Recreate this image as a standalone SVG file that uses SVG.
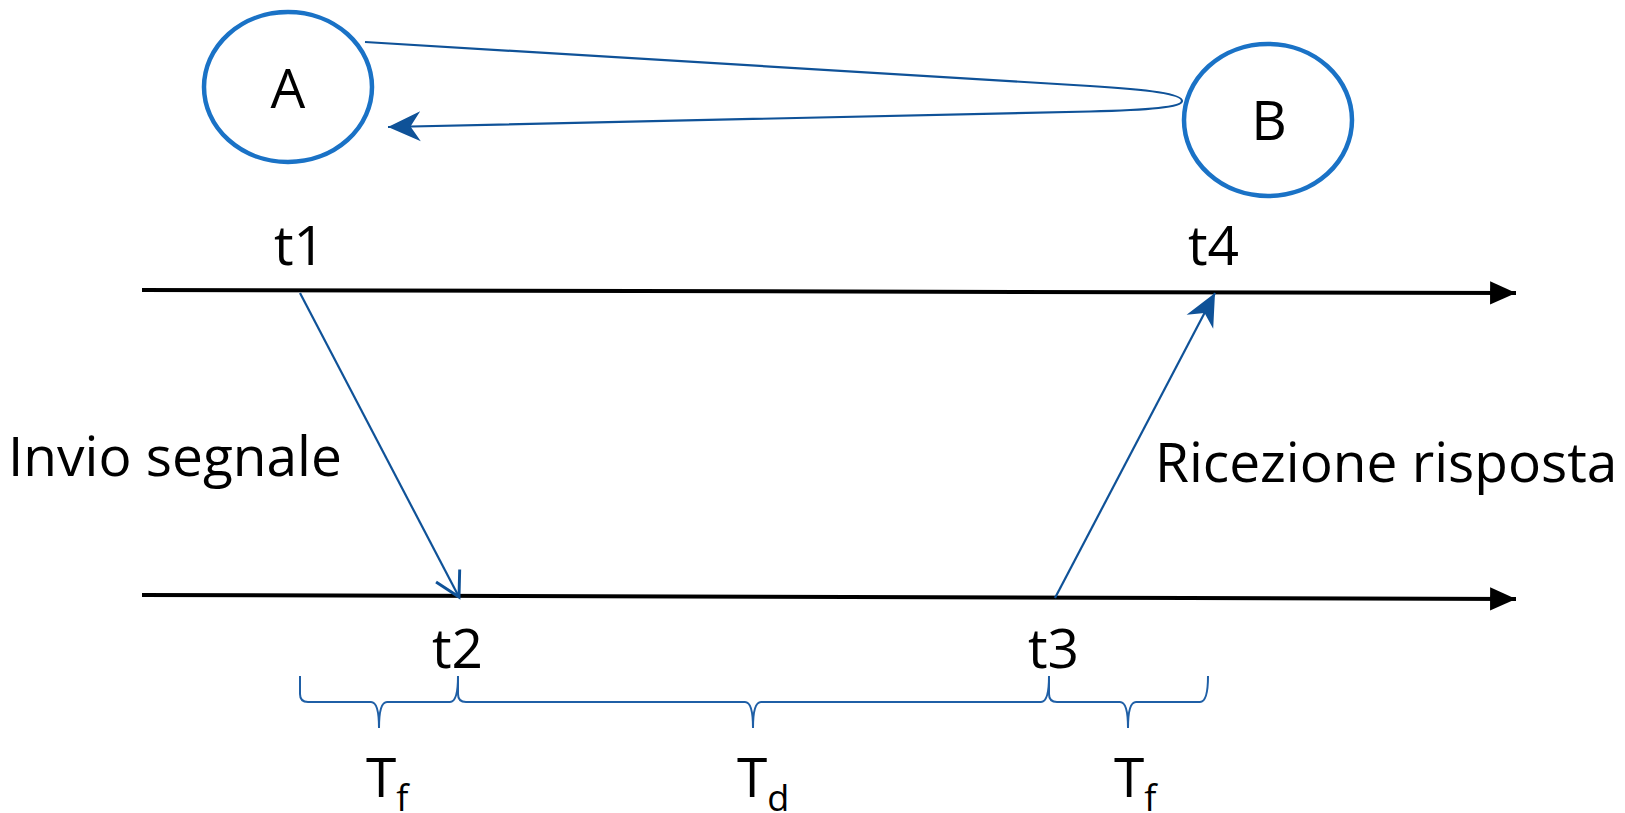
<svg xmlns="http://www.w3.org/2000/svg" width="1625" height="813" viewBox="0 0 1625 813">
<style>
text{font-family:"Open Sans","Noto Sans","Liberation Sans",sans-serif;font-size:55px;fill:#000}
.node{fill:#fff;stroke:#1a72c6;stroke-width:4.5}
.conn{fill:none;stroke:#0f5298;stroke-width:2.2}
.axis{fill:none;stroke:#000;stroke-width:4}
.brace{fill:none;stroke:#1f5fa6;stroke-width:2}
.sub{font-size:36px}
</style>
<defs>
<marker id="stealth" markerUnits="userSpaceOnUse" markerWidth="40" markerHeight="40" viewBox="-30 -15 32 30" refX="0" refY="0" orient="auto">
<path d="M0,0 L-26,-12 L-18,0 L-26,12 Z" fill="#0f5298"/>
</marker>
<marker id="openv" markerUnits="userSpaceOnUse" markerWidth="40" markerHeight="40" viewBox="-25 -15 30 30" refX="0" refY="0" orient="auto">
<path d="M-18,-10 L0,0 L-18,10" fill="none" stroke="#0f5298" stroke-width="2.2"/>
</marker>
<marker id="axhead" markerUnits="userSpaceOnUse" markerWidth="30" markerHeight="30" viewBox="-20 -10 22 20" refX="0" refY="0" orient="auto">
<path d="M0,0 L-19,-8.5 L-19,8.5 Z" fill="#000"/>
</marker>
</defs>

<g id="axes">
<line class="axis" x1="142" y1="290" x2="1516" y2="293" marker-end="url(#axhead)"/>
<line class="axis" x1="142" y1="595" x2="1516" y2="599" marker-end="url(#axhead)"/>
</g>

<g id="nodeA">
<ellipse class="node" cx="288" cy="87" rx="84" ry="75"/>
<text x="288" y="108" text-anchor="middle">A</text>
</g>
<g id="nodeB">
<ellipse class="node" cx="1268" cy="120" rx="84" ry="76"/>
<text x="1269" y="140" text-anchor="middle">B</text>
</g>

<g id="connectors">
<path class="conn" d="M365,42 L1090,86 C1150,89.6 1182,94 1182,101 C1182,107 1150,110 1090,111.5 L388,127" marker-end="url(#stealth)"/>
<line class="conn" x1="300" y1="293" x2="459" y2="597" marker-end="url(#openv)"/>
<line class="conn" x1="1055" y1="598" x2="1215" y2="293" stroke-width="2.5" marker-end="url(#stealth)"/>
</g>

<g id="braces">
<path class="brace" d="M300,676 L300,694 Q300,702 308,702 L371,702 Q379,702 379,728 Q379,702 387,702 L450,702 Q458,702 458,676"/>
<path class="brace" d="M458,676 L458,694 Q458,702 466,702 L745,702 Q753,702 753,728 Q753,702 761,702 L1041,702 Q1049,702 1049,676"/>
<path class="brace" d="M1049,676 L1049,694 Q1049,702 1057,702 L1120,702 Q1128,702 1128,728 Q1128,702 1136,702 L1200,702 Q1208,702 1208,676"/>
</g>

<g id="labels">
<text x="274" y="265">t1</text>
<text x="1188" y="265">t4</text>
<text x="432" y="668">t2</text>
<text x="1028" y="668">t3</text>
<text x="8" y="476">Invio segnale</text>
<text x="1155" y="482" font-size="56">Ricezione risposta</text>
<text x="366" y="797">T<tspan class="sub" dy="14">f</tspan></text>
<text x="737" y="797">T<tspan class="sub" dy="14">d</tspan></text>
<text x="1114" y="797">T<tspan class="sub" dy="14">f</tspan></text>
</g>
</svg>
